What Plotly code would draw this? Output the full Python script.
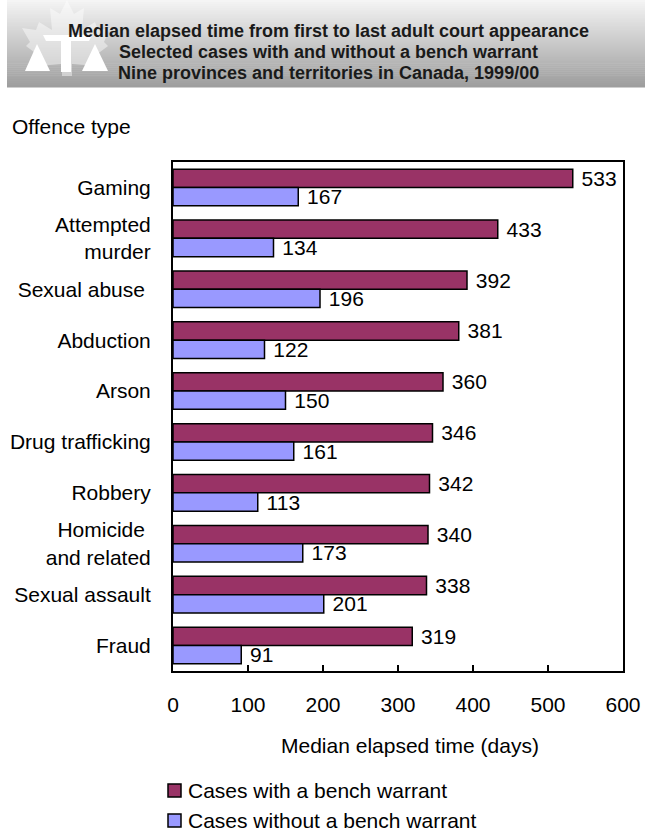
import plotly.graph_objects as go

categories = ["Gaming", "Attempted<br>murder", "Sexual abuse ", "Abduction", "Arson",
              "Drug trafficking", "Robbery", "Homicide <br>and related", "Sexual assault", "Fraud"]
with_warrant = [533, 433, 392, 381, 360, 346, 342, 340, 338, 319]
without_warrant = [167, 134, 196, 122, 150, 161, 113, 173, 201, 91]
x_ticks = [0, 100, 200, 300, 400, 500, 600]
series_names = ["Cases with a bench warrant", "Cases without a bench warrant"]
series_colors = ["#993366", "#9999ff"]
title_lines = ["Median elapsed time from first to last adult court appearance",
               "Selected cases with and without a bench warrant",
               "Nine provinces and territories in Canada, 1999/00"]

W, H = 645, 834
L, R, T, B = 173, 623, 162, 671
FS = 21


def px(x):
    return (x - L) / (R - L)


def py(y):
    return (B - y) / (B - T)


FONT = "Liberation Sans, Arial, sans-serif"

fig = go.Figure()
for vals, name, col in zip([with_warrant, without_warrant], series_names, series_colors):
    fig.add_trace(go.Bar(
        y=categories, x=vals, orientation="h", name=name,
        marker=dict(color=col, line=dict(color="black", width=1.5)),
        text=["\u00a0" + str(v) for v in vals], textposition="outside", cliponaxis=False,
        constraintext="none",
        textfont=dict(size=FS, color="black", family=FONT)))

shapes = []
# banner gradient
y0, y1 = 0, 87
n = 44
for i in range(n):
    t = i / (n - 1)
    g = int(245 - t * (245 - 158))
    ya = y0 + (y1 - y0) * i / n
    yb = y0 + (y1 - y0) * (i + 1) / n + 0.6
    shapes.append(dict(type="rect", xref="paper", yref="paper",
                       x0=px(7), x1=px(645), y0=py(ya), y1=py(yb),
                       fillcolor=f"rgb({g},{g},{g})", line=dict(width=0), layer="below"))


def path(points):
    return "M " + " L ".join(f"{px(x):.5f},{py(y):.5f}" for x, y in points) + " Z"


leaf = [(67, 0), (74, 14), (84, 8), (82, 30), (95, 22), (98, 30), (110, 28), (104, 42),
        (108, 46), (92, 58), (96, 66), (72, 64), (72, 76), (62, 76), (62, 64), (38, 66),
        (42, 58), (26, 46), (30, 42), (22, 28), (36, 30), (39, 22), (52, 30), (50, 8), (60, 14)]
shapes.append(dict(type="path", xref="paper", yref="paper", path=path(leaf),
                   fillcolor="rgba(255,255,255,0.45)", line=dict(width=0)))
for pts in [[(37, 44), (25, 71), (50, 71)], [(95, 44), (82, 71), (108, 71)],
            [(43, 35), (92, 35), (89, 41), (46, 41)], [(61, 41), (71, 41), (71, 72), (61, 72)]]:
    shapes.append(dict(type="path", xref="paper", yref="paper", path=path(pts),
                       fillcolor="white", line=dict(width=0)))

annotations = []
for i, line in enumerate(title_lines):
    annotations.append(dict(text=f"<b>{line}</b>", x=px(328), y=py(31 + 21 * i),
                            xref="paper", yref="paper", xanchor="center", yanchor="middle",
                            showarrow=False, font=dict(size=18, color="#1a1a1a", family=FONT)))
annotations += [
    dict(text="Offence type", x=px(10), y=py(127), xref="paper", yref="paper",
         xanchor="left", yanchor="middle", showarrow=False,
         font=dict(size=FS, color="black", family=FONT)),
    dict(text="Median elapsed time (days)", x=px(410), y=py(745), xref="paper", yref="paper",
         xanchor="center", yanchor="middle", showarrow=False,
         font=dict(size=FS, color="black", family=FONT)),
]

# legend drawn as keys + text
for i, (name, col) in enumerate(zip(series_names, series_colors)):
    yc = 790 + 30 * i
    shapes.append(dict(type="rect", xref="paper", yref="paper",
                       x0=px(168), x1=px(181), y0=py(yc + 7), y1=py(yc - 6),
                       fillcolor=col, line=dict(color="black", width=1.5)))
    annotations.append(dict(text=name, x=px(186), y=py(yc), xref="paper", yref="paper",
                            xanchor="left", yanchor="middle", showarrow=False,
                            font=dict(size=FS, color="black", family=FONT)))

fig.update_layout(
    width=W, height=H, margin=dict(l=L, r=W - R, t=T, b=H - B, pad=0, autoexpand=False),
    paper_bgcolor="white", plot_bgcolor="white",
    barmode="group", bargap=0.28, bargroupgap=0,
    font=dict(family=FONT, size=FS, color="black"),
    shapes=shapes, annotations=annotations,
    showlegend=False,
    xaxis=dict(range=[0, 600], tickvals=x_ticks, ticks="inside", ticklen=6, tickwidth=1.5,
               tickcolor="black", showline=True, linecolor="black", linewidth=2,
               mirror=True, showgrid=False, zeroline=False, ticklabelstandoff=14,
               tickfont=dict(size=FS, family=FONT)),
    yaxis=dict(autorange="reversed", showline=True, linecolor="black", linewidth=2,
               mirror=True, showgrid=False, ticks="", ticklabelstandoff=16,
               tickfont=dict(size=FS, family=FONT)),
)

fig.write_html("out.html")
